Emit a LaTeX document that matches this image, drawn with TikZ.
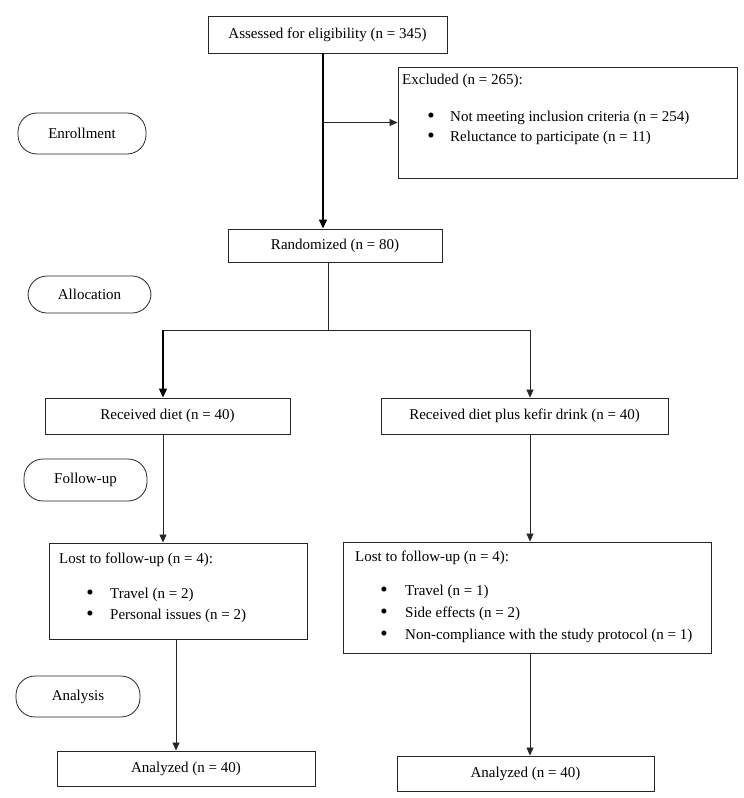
\documentclass[tikz,border=0pt]{standalone}
\usepackage{fontspec}
\setmainfont{Liberation Serif}
\usetikzlibrary{arrows.meta,calc}
\newcommand{\bul}{{\fontsize{21}{21}\selectfont •}}
\begin{document}
\begin{tikzpicture}[x=1pt,y=-1pt,
  font=\fontsize{15}{21}\selectfont,
  box/.style={draw=black!85, line width=0.9pt, minimum width=#1, inner sep=0pt},
  pill/.style={draw=black!85, line width=0.8pt, rounded corners=19pt, minimum width=#1, inner sep=0pt},
  txt/.style={anchor=west, inner sep=0pt},
  bl/.style={anchor=center, inner sep=0pt},
  conn/.style={draw=black!85, line width=0.8pt},
  arr/.style={conn, -{Triangle[length=8pt,width=7pt]}},
  bigarr/.style={draw=black, line width=1.5pt, -{Triangle[length=9pt,width=8pt]}}
]
\useasboundingbox (0,0) rectangle (744,798);

% main boxes
\node[box=239pt, minimum height=37pt] (assess) at (327.5,34.5) {Assessed for eligibility (n = 345)};
\node[box=339pt, minimum height=111pt] (excl) at (567.5,122.5) {};
\node[box=214pt, minimum height=33pt] (rand) at (335,245.5) {Randomized (n = 80)};
\node[box=245pt, minimum height=36pt] (diet) at (167.5,416) {Received diet (n = 40)};
\node[box=287pt, minimum height=36pt] (kefir) at (524.5,416) {Received diet plus kefir drink (n = 40)};
\node[box=258pt, minimum height=96pt] (lostL) at (178,591) {};
\node[box=368pt, minimum height=111pt] (lostR) at (527,597.5) {};
\node[box=258pt, minimum height=35pt] (anaL) at (186,768.5) {Analyzed (n = 40)};
\node[box=257pt, minimum height=35pt] (anaR) at (525.5,773.5) {Analyzed (n = 40)};

% stage pills
\node[pill=128pt, minimum height=41pt] (enrol) at (82,133.5) {Enrollment};
\node[pill=123pt, minimum height=37pt] (alloc) at (89.5,294.5) {Allocation};
\node[pill=123pt, minimum height=42pt] (follow) at (85.5,480) {Follow-up};
\node[pill=124pt, minimum height=41pt] (analysis) at (78,696.5) {Analysis};

% box texts
\node[txt] (exT) at (402,81) {Excluded (n = 265):};
\node[bl] (exB1) at (431,118) {\bul};
\node[txt] (exI1) at (450,118) {Not meeting inclusion criteria (n = 254)};
\node[bl] (exB2) at (431,138) {\bul};
\node[txt] (exI2) at (450,138) {Reluctance to participate (n = 11)};

\node[txt] (lLT) at (59,560) {Lost to follow-up (n = 4):};
\node[bl] (lLB1) at (90,595) {\bul};
\node[txt] (lLI1) at (110,595) {Travel (n = 2)};
\node[bl] (lLB2) at (90,616) {\bul};
\node[txt] (lLI2) at (110,616) {Personal issues (n = 2)};

\node[txt] (lRT) at (355,558) {Lost to follow-up (n = 4):};
\node[bl] (lRB1) at (384,592) {\bul};
\node[txt] (lRI1) at (405,592) {Travel (n = 1)};
\node[bl] (lRB2) at (384,614) {\bul};
\node[txt] (lRI2) at (405,614) {Side effects (n = 2)};
\node[bl] (lRB3) at (384,636) {\bul};
\node[txt] (lRI3) at (405,636) {Non-compliance with the study protocol (n = 1)};

% column coordinates
\coordinate (cMain) at (323,0);
\coordinate (cRand) at (328,0);
\coordinate (cL) at (163,0);
\coordinate (cR) at (530,0);
\coordinate (cL2) at (176,0);
\coordinate (split) at (328,330);

% connectors
\draw[bigarr] (assess.south -| cMain) -- (rand.north -| cMain);
\draw[arr] (cMain |- excl.west) -- (excl.west);
\draw[conn] (rand.south -| cRand) -- (split);
\draw[conn] (cL |- split) -- (cR |- split);
\draw[bigarr, line width=1.2pt] (cL |- split) -- (diet.north -| cL);
\draw[arr] (cR |- split) -- (kefir.north -| cR);
\draw[arr] (diet.south -| cL) -- (lostL.north -| cL);
\draw[arr] (kefir.south -| cR) -- (lostR.north -| cR);
\draw[arr] (lostL.south -| cL2) -- (anaL.north -| cL2);
\draw[arr] (lostR.south -| cR) -- (anaR.north -| cR);
\end{tikzpicture}
\end{document}
